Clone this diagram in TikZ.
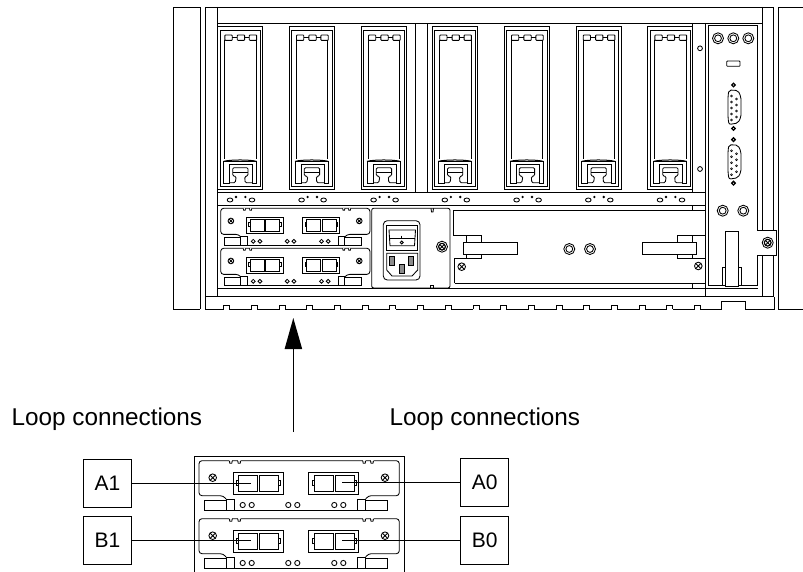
\documentclass[tikz,border=0pt]{standalone}
\usepackage{fontspec}
\setmainfont{Liberation Sans}
\tikzset{
  ln/.style={line width=0.85pt,black},
  label box/.style={draw,line width=0.6pt,minimum width=48pt,minimum height=48pt,inner sep=0pt,font=\fontsize{21}{21}\selectfont},
  caption/.style={anchor=base west,inner sep=0pt,font=\fontsize{24.3}{24.3}\selectfont},
  wire/.style={line width=0.6pt},
  pics/module/.style={code={
    \draw[ln,rounded corners=3pt] (27,38.3)--(24.3,35)--(0,35)--(0,0)--(200.3,0)--(200.3,35)--(169.3,35)--(166.7,38.3);
    \foreach \n in {30.3,38.7,163.7,171.5}{
      \draw[white,line width=1pt] (\n,0)--(\n+3,0);
      \draw[ln] (\n,0)--(\n+.5,2.6)--(\n+2.5,2.6)--(\n+3,0);}
    \draw[ln] (5.3,39.3) rectangle (27,49.7);
    \draw[ln] (27,38.3) rectangle (35.7,49.7);
    \draw[ln] (158.3,38.3) rectangle (166.7,49.7);
    \draw[ln] (166.7,39.3) rectangle (188.3,49.7);
    \draw[ln] (35.7,49.7)--(158.3,49.7);
    \draw[ln] (34.3,11.7) rectangle (84.3,33.3);
    \draw[ln] (39.3,14.3) rectangle (58.3,31);
    \draw[ln] (60.3,14.3) rectangle (79.3,31);
    \draw[ln] (37.7,19.3) rectangle (39.3,24.3);
    \draw[ln] (79.3,19.3) rectangle (81.7,24.3);
    \draw[ln] (109.7,11.7) rectangle (159.7,33.3);
    \draw[ln] (115.3,14.3) rectangle (134.3,31);
    \draw[ln] (136.3,14.3) rectangle (155.3,31);
    \draw[ln] (113.3,19.3) rectangle (115.3,24.3);
    \draw[ln] (155.3,19.3) rectangle (157.3,24.3);
    \foreach \q in {13.7,186}{
      \draw[ln] (\q,17) circle (3.8);
      \draw[ln] (\q-2.6,14.4)--(\q+2.6,19.6) (\q-2.6,19.6)--(\q+2.6,14.4);}
    \foreach \q in {43.7,52.7,89.3,98.3,135.3,144.3}{\draw[ln] (\q,44.3) circle (2.6);}
  }},
  pics/drive/.style={code={
    \draw[ln] (0,0) rectangle (45,162.3);
    \draw[ln] (2.3,3.3) rectangle (42.7,160);
    \foreach \q in {7.2,19.6,31.6}{\draw[ln,rounded corners=.7pt] (\q,8.3) rectangle (\q+7.3,13.7);}
    \draw[ln] (14.5,11)--(19.6,11) (26.9,11)--(31.6,11);
    \draw[ln] (7.2,13.7)--(7.2,132.6) (38.6,13.7)--(38.6,132.6);
    \draw[line width=1pt] (5.7,134.7) .. controls (12,132.8) and (33,132.8) .. (39,134.7);
    \draw[ln] (5.7,134.7)--(5.7,156.7)--(11.7,156.7)--(11.7,137.3)--(35,137.3)--(35,156.7)--(39,156.7)--(39,134.7);
    \draw[ln] (5.7,134.7)--(39,134.7);
    \draw[ln,rounded corners=1.2pt] (11.7,156)--(17.5,156)--(18.5,150)--(15,149)--(15,141)--(30.3,141)--(30.3,149)--(27,150)--(27.5,156)--(35,156);
    \draw[ln] (15,146)--(30.3,146);
    \draw[ln] (12.3,173.3) ellipse (2.8 and 2);
    \draw[ln] (34.3,173.3) ellipse (2.8 and 2);
    \fill (18.3,170.3) circle (1.3);
    \fill (27.7,170.3) circle (1.3);
  }}
}
\newcommand{\dbl}[3]{\draw[ln] (#1,#2) circle (#3); \draw[ln] (#1,#2) circle (#3*.62);}
\newcommand{\xscrew}[3]{\draw[ln] (#1,#2) circle (#3);
  \draw[ln] ({#1-.68*#3},{#2-.68*#3})--({#1+.68*#3},{#2+.68*#3}) ({#1-.68*#3},{#2+.68*#3})--({#1+.68*#3},{#2-.68*#3});}
\begin{document}
\begin{tikzpicture}[x=1pt,y=-1pt]
\useasboundingbox (0,0) rectangle (803,572);
% side panels
\draw[ln] (200,309)--(173,309)--(173,7)--(200,7)--(200,309);
\draw[ln] (803,7)--(778.3,7)--(778.3,309)--(803,309);
% main frame
\draw[ln] (205,309)--(205,7)--(773,7)--(773,297);
\draw[ln] (217,7)--(217,296.7);
\draw[ln] (217,23)--(762,23);
\draw[ln] (762,7)--(762,296.7);
\draw[ln] (217,192)--(705.7,192) (217,205.3)--(705.7,205.3);
\draw[ln] (415.3,23) rectangle (427.3,192);
\draw[ln] (692.3,23)--(692.3,192) (705.7,23)--(705.7,296.7);
\draw[ln] (217,288)--(758,288);
\draw[ln] (205,296.7)--(773,296.7);
% bottom strip with notches
\draw[ln] (205,309)--(721.7,309)--(721.7,301)--(745.7,301)--(745.7,309)--(774,309)--(774,296.7);
\foreach \i in {0,...,17}{
  \pgfmathsetmacro{\nx}{226.7+27.7*\i}
  \draw[white,line width=1.2pt] (\nx-2.6,309)--(\nx+2.6,309);
  \draw[ln] (\nx-3,309)--(\nx-3,305.7)--(\nx+3,305.7)--(\nx+3,309);
}
% drives
\foreach \dx in {217.7,289.3,361.3,432.5,504.3,576,647.7}{\pic at (\dx,26.7) {drive};}
\draw[ln] (700,48.3) circle (2.4);
\draw[ln] (700,169) circle (2.4);
% small modules
\pic[scale=.745] at (220.7,208.3) {module};
\pic[scale=.745] at (220.7,248.3) {module};
% power module
\draw[ln,rounded corners=2pt] (371.7,208.3) rectangle (450,288);
\draw[ln] (431,208.3)--(431.5,212)--(433,212)--(433.5,208.3);
\draw[ln] (430.5,288)--(430.5,285)--(433.5,285)--(433.5,288);
\draw[ln,rounded corners=4pt] (383.3,220.7) rectangle (420,280);
\draw[ln] (386.7,225.7) rectangle (417.7,250);
\draw[ln] (389,230)--(415.5,230)--(414.5,245.7)--(390,245.7)--cycle;
\draw[ln] (389.5,238.3)--(415,238.3) (401.7,235.5)--(401.7,238.3);
\draw[ln] (401.7,242.5) circle (1.5);
\draw[ln] (386.7,253.3)--(417.7,253.3)--(417.7,270)--(412,276)--(392,276)--(386.7,270)--cycle;
\foreach \a/\b/\c/\d in {389/256.7/394.3/265,408.3/256.7/413.8/265,399.3/264.6/404.3/273.6}{
  \draw[ln,fill=black!45] (\a,\b) rectangle (\c,\d);}
\dbl{442}{246.7}{5.5}
\xscrew{442}{246.7}{3.4}
% large panel
\draw[ln] (453.3,235)--(453.3,210.7)--(705.7,210.7);
\draw[ln] (453.3,235)--(481,235) (677.7,235)--(705.7,235);
\draw[ln] (466.7,235)--(466.7,242.3) (481,235)--(481,242.3);
\draw[ln] (677.7,235)--(677.7,242.3) (692.3,235)--(692.3,242.3);
\draw[ln] (463.3,242.3) rectangle (517.3,254.8);
\draw[ln] (642.7,242.3) rectangle (696.7,254.8);
\draw[ln] (454.7,283.3)--(454.7,258.7)--(466.7,258.7)--(466.7,254.8);
\draw[ln] (481,254.8)--(481,258.7)--(466.7,258.7);
\draw[ln] (677.7,254.8)--(677.7,258.7)--(705.7,258.7) (692.3,254.8)--(692.3,258.7);
\draw[ln] (454.7,283.3)--(705.7,283.3);
\draw[ln] (692.3,205.3)--(692.3,210.7) (692.3,283.3)--(692.3,288);
\xscrew{698.3}{266}{3.8}
\xscrew{461.7}{266.7}{3.8}
\dbl{569.3}{249}{5.5}
\dbl{590}{249}{5.5}
% right board
\draw[ln] (708.3,25)--(757.7,25) (708.3,25)--(708.3,285)--(757.7,285)--(757.7,25);
\foreach \q in {718,733.3,748.3}{\dbl{\q}{38.3}{5.5}}
\draw[ln,rounded corners=.7pt] (726.7,61) rectangle (740,66.3);
\foreach \o in {0,54.7}{
  \draw[ln,rounded corners=2pt] (729,{90+\o})--(738,{90.5+\o})--(741,{97+\o})--(741,{117+\o})--(738,{123+\o})--(729,{124.5+\o})--(728,{118+\o})--(728,{96+\o})--cycle;
  \foreach \p in {96,102,108,114,120}{\draw[line width=.6pt] (731.5,{\p+\o}) circle (1);}
  \foreach \p in {99,105,111,117}{\draw[line width=.6pt] (736.5,{\p+\o}) circle (1);}
  \draw[line width=1.3pt] (733.5,{85+\o}) circle (1.8);
  \draw[line width=1.3pt] (733.5,{128.5+\o}) circle (1.8);
}
\dbl{722.7}{210.7}{5.5}
\dbl{743.3}{210.7}{5.5}
\draw[ln] (722.7,285)--(722.7,267.3)--(741.7,267.3)--(741.7,285);
\draw[ln,fill=white] (725.3,231.7) rectangle (738.7,286.7);
\draw[ln,fill=white] (757.7,230.7)--(776.7,230.7)--(776.7,255)--(757.7,255);
\draw[white,line width=1.3pt] (757.7,231.2)--(757.7,254.5);
\dbl{767.7}{242.7}{5.5}
\xscrew{767.7}{242.7}{3.4}
% arrow
\coordinate (arrowtail) at (293.3,432);
\coordinate (arrowbase) at (293.3,349);
\coordinate (arrowhead) at (293.3,318);
\draw[wire] (arrowtail)--(arrowbase);
\fill (arrowhead)--(302.2,349)--(284.6,349)--cycle;
% labels
\node[caption] (loopl) at (11.5,425) {Loop connections};
\node[caption] (loopr) at (389.5,425) {Loop connections};
% lower module
\draw[ln] (194.3,572)--(194.3,456.7)--(404,456.7)--(404,572);
\pic at (199,460.7) {module};
\pic at (199,518.7) {module};
\node[label box] (A1) at (107.5,483) {A1};
\node[label box] (B1) at (107.5,540.2) {B1};
\node[label box] (A0) at (484.7,482.5) {A0};
\node[label box] (B0) at (484.7,539.8) {B0};
\coordinate (a1p) at (250.7,483);
\coordinate (b1p) at (250.7,540.2);
\coordinate (a0p) at (341.7,482.5);
\coordinate (b0p) at (341.7,539.8);
\draw[wire] (A1)--(a1p);
\draw[wire] (B1)--(b1p);
\draw[wire] (A0)--(a0p);
\draw[wire] (B0)--(b0p);
\end{tikzpicture}
\end{document}
